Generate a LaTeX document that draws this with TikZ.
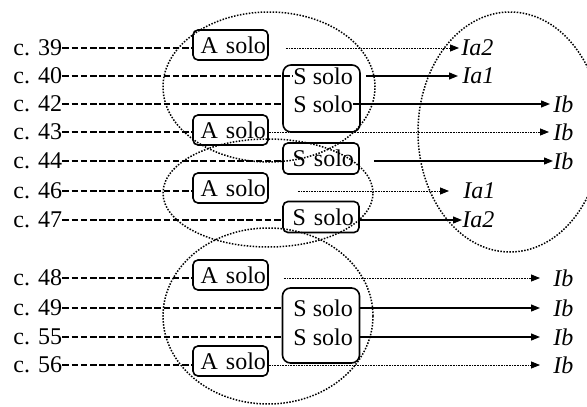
\documentclass[tikz,border=0pt]{standalone}
\usepackage{fontspec}
\setmainfont{Liberation Serif}
\usetikzlibrary{arrows.meta}
\tikzset{
  rowlbl/.style  = {anchor=west, inner sep=0pt},
  outlbl/.style  = {font=\fontsize{12}{14}\selectfont\itshape, anchor=west, inner sep=0pt},
  abox/.style    = {draw, rounded corners=2.5pt, line width=0.8pt, text width=35.5pt, align=right, inner xsep=1pt, inner ysep=0pt, minimum height=15pt},
  sbox/.style    = {draw, rounded corners=2.5pt, line width=0.8pt, text width=33pt, align=right, inner xsep=2.5pt, inner ysep=0pt, minimum height=15.5pt},
  bigbox/.style  = {draw, rounded corners=4pt, line width=0.8pt, minimum width=38.5pt},
  stext/.style   = {anchor=west, inner sep=0pt},
  feed/.style    = {line width=0.7pt, dash pattern=on 3.3pt off 1.3pt},
  group/.style   = {line width=0.75pt, dash pattern=on 0.75pt off 0.75pt},
  go/.style      = {-{Triangle[length=4.5pt,width=3.5pt]}, line width=0.6pt},
  goweak/.style  = {-{Triangle[length=4.5pt,width=3.5pt]}, line width=0.4pt, dash pattern=on 0.4pt off 0.4pt},
}

\begin{document}
\begin{tikzpicture}[x=0.5pt,y=-0.5pt,font=\fontsize{12}{14}\selectfont]
  \useasboundingbox (0,0) rectangle (587,406);

  % ---------- groups ----------
  \draw[group] (269,87) ellipse [x radius=53pt, y radius=37.5pt];
  \draw[group] (268,193) ellipse [x radius=52.5pt, y radius=27pt];
  \draw[group] (268,316) ellipse [x radius=52.5pt, y radius=44pt];
  \draw[group] (510,132) ellipse [x radius=46pt, y radius=60pt];

  % ---------- bar numbers ----------
  \foreach \c/\y in {39/48, 40/76, 42/104, 43/132, 44/161, 46/191, 47/220, 48/278, 49/308, 55/337, 56/365}
    \node[rowlbl] (c\c) at (13,\y) {c. \c};

  % ---------- A solo ----------
  \foreach \c/\y in {39/45, 43/130, 46/188, 48/275, 56/361}
    \node[abox] (a\c) at (230.5,\y) {A solo};

  % ---------- S solo ----------
  \node[sbox] (s44) at (321,158.5) {S solo};
  \node[sbox] (s47) at (321,217) {S solo};
  \node[bigbox, minimum height=33.5pt] (t1) at (321.5,98.5) {};
  \node[bigbox, minimum height=37.5pt] (t2) at (321,325.5) {};
  \foreach \c/\y in {40/76, 42/104, 49/308, 55/337}
    \node[stext] (s\c) at (293,\y) {S solo};

  % ---------- feeds ----------
  \foreach \c/\b in {39/a39, 40/s40, 42/t1, 43/a43, 44/s44, 46/a46, 47/s47, 48/a48, 49/t2, 55/t2, 56/a56}
    \draw[feed] (c\c.east) -- (c\c.east -| \b.west);

  % ---------- targets ----------
  \foreach \c/\y/\t/\x in {39/48/Ia2/461, 40/76/Ia1/462, 42/104/Ib/553, 43/132/Ib/553, 44/161/Ib/553,
      46/191/Ia1/463, 47/220/Ia2/462, 48/278/Ib/553, 49/308/Ib/553, 55/337/Ib/553, 56/365/Ib/553}
    \node[outlbl] (o\c) at (\x,\y) {\t};

  % solid
  \draw[go] ([xshift=2.5pt]t1.east |- o40.west) -- ([xshift=-2pt]o40.west);
  \draw[go] (s42.east |- o42.west) -- ([xshift=-1.5pt]o42.west);
  \draw[go] ([xshift=7pt]s44.east |- o44.west) -- (o44.west);
  \draw[go] (s47.east |- o47.west) -- (o47.west);
  \draw[go] (t2.east |- o49.west) -- ([xshift=-6.5pt]o49.west);
  \draw[go] (t2.east |- o55.west) -- ([xshift=-6.5pt]o55.west);
  % dotted
  \draw[goweak] ([xshift=8.5pt]a39.east |- o39.west) -- ([xshift=-1pt]o39.west);
  \draw[goweak] (a43.east |- o43.west) -- ([xshift=-2pt]o43.west);
  \draw[goweak] ([xshift=14.5pt]a46.east |- o46.west) -- ([xshift=-7pt]o46.west);
  \draw[goweak] ([xshift=7.5pt]a48.east |- o48.west) -- ([xshift=-6.5pt]o48.west);
  \draw[goweak] (a56.east |- o56.west) -- ([xshift=-6.5pt]o56.west);
\end{tikzpicture}
\end{document}
